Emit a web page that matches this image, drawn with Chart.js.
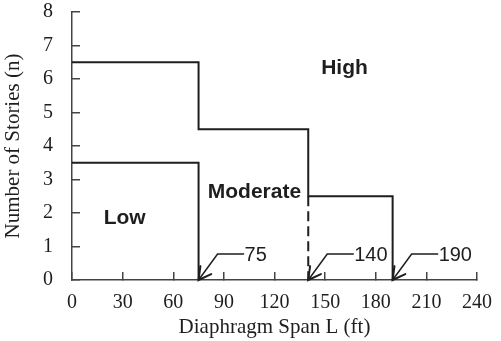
<!DOCTYPE html>
<html>
<head>
<meta charset="utf-8">
<script src="https://cdn.jsdelivr.net/npm/chart.js@4"></script>
<style>
  html, body { margin: 0; padding: 0; background: #fff; }
  #wrap { width: 501px; height: 341px; }
</style>
</head>
<body>
<div id="wrap"><canvas id="chart"></canvas></div>
<script>
// ---- data ----
const xTicks = [0, 30, 60, 90, 120, 150, 180, 210, 240];
const yTicks = [0, 1, 2, 3, 4, 5, 6, 7, 8];

// upper boundary (moderate / high)
const highSpan    = [0, 75, 75, 140, 140, 190, 190];
const highStories = [6.5, 6.5, 4.5, 4.5, 2.5, 2.5, 0];

// lower boundary (low / moderate)
const lowSpan    = [0, 75, 75];
const lowStories = [3.5, 3.5, 0];

// dashed drop at 140 ft
const dashSpan    = [140, 140];
const dashStories = [2.5, 0];

// span limits called out under the axis
const spanLimits = [75, 140, 190];

const zoneNames = ['Low', 'Moderate', 'High'];
const zoneSpan = [31.2, 108.1, 161.5];
const zoneStories = [1.83, 2.63, 6.33];

const INK = '#1e1e1e';
const AXIS = '#444';
const SERIF = "'Liberation Serif', 'DejaVu Serif', serif";
const SANS = "'Liberation Sans', Arial, sans-serif";

const pts = (xs, ys) => xs.map((x, i) => ({ x: x, y: ys[i] }));

const lineSet = (xs, ys, dash) => ({
  data: pts(xs, ys),
  showLine: true,
  borderColor: INK,
  borderWidth: 2,
  borderDash: dash || [],
  pointRadius: 0,
  fill: false
});

// fixed box sizes, no extra room for overhanging tick labels
const fixBox = (w, h) => s => {
  if (w) s.width = w;
  if (h) s.height = h;
  s.paddingTop = s.paddingBottom = s.paddingLeft = s.paddingRight = 0;
};

// zone names and the arrow call-outs
const notes = {
  id: 'notes',
  afterDatasetsDraw(chart) {
    const ctx = chart.ctx;
    const xs = chart.scales.x, ys = chart.scales.y;
    ctx.save();
    ctx.fillStyle = INK;
    ctx.font = 'bold 21px ' + SANS;
    ctx.textAlign = 'center';
    ctx.textBaseline = 'middle';
    zoneNames.forEach((name, i) => {
      ctx.fillText(name, xs.getPixelForValue(zoneSpan[i]), ys.getPixelForValue(zoneStories[i]));
    });

    ctx.strokeStyle = INK;
    ctx.font = '20px ' + SANS;
    ctx.textAlign = 'left';
    ctx.lineCap = 'round';
    spanLimits.forEach(v => {
      const tx = xs.getPixelForValue(v);
      const ty = ys.getPixelForValue(0);
      const kx = tx + 19, ky = ty - 26;
      ctx.lineWidth = 1.5;
      ctx.beginPath();
      ctx.moveTo(tx, ty);
      ctx.lineTo(kx, ky);
      ctx.lineTo(tx + 45, ky);
      ctx.stroke();
      // arrow head
      const ang = Math.atan2(ky - ty, kx - tx);
      const len = 14, spread = 0.5;
      ctx.lineWidth = 2;
      ctx.beginPath();
      ctx.moveTo(tx + len * Math.cos(ang - spread), ty + len * Math.sin(ang - spread));
      ctx.lineTo(tx, ty);
      ctx.lineTo(tx + len * Math.cos(ang + spread), ty + len * Math.sin(ang + spread));
      ctx.stroke();
      ctx.fillText(String(v), tx + 46, ky + 1);
    });
    ctx.restore();
  }
};

new Chart(document.getElementById('chart'), {
  type: 'scatter',
  data: {
    datasets: [
      lineSet(highSpan, highStories),
      lineSet(lowSpan, lowStories),
      lineSet(dashSpan, dashStories, [10, 5])
    ]
  },
  options: {
    responsive: true,
    maintainAspectRatio: false,
    animation: false,
    layout: { padding: { top: 12, right: 24, left: 0, bottom: 0 } },
    plugins: {
      legend: { display: false },
      tooltip: { enabled: false }
    },
    scales: {
      x: {
        type: 'linear',
        min: 0,
        max: 240,
        afterBuildTicks: s => { s.ticks = xTicks.map(v => ({ value: v })); },
        afterFit: fixBox(0, 61),
        border: { color: AXIS, width: 1.5 },
        grid: { drawOnChartArea: false, drawTicks: true, tickLength: -8, color: AXIS, lineWidth: 1.5 },
        ticks: { color: INK, font: { family: SERIF, size: 20 }, padding: 19, maxRotation: 0 },
        title: {
          display: true,
          text: 'Diaphragm Span L (ft)',
          color: INK,
          font: { family: SERIF, size: 21 },
          padding: { top: 0, bottom: 1 }
        }
      },
      y: {
        type: 'linear',
        min: 0,
        max: 8,
        afterBuildTicks: s => { s.ticks = yTicks.map(v => ({ value: v })); },
        afterFit: fixBox(72, 0),
        border: { color: AXIS, width: 1.5 },
        grid: { drawOnChartArea: false, drawTicks: true, tickLength: -8, color: AXIS, lineWidth: 1.5 },
        ticks: { color: INK, font: { family: SERIF, size: 20 }, padding: 27 },
        title: {
          display: true,
          text: 'Number of Stories (n)',
          color: INK,
          font: { family: SERIF, size: 21 },
          padding: { top: 1, bottom: 0 }
        }
      }
    }
  },
  plugins: [notes]
});
</script>
</body>
</html>
